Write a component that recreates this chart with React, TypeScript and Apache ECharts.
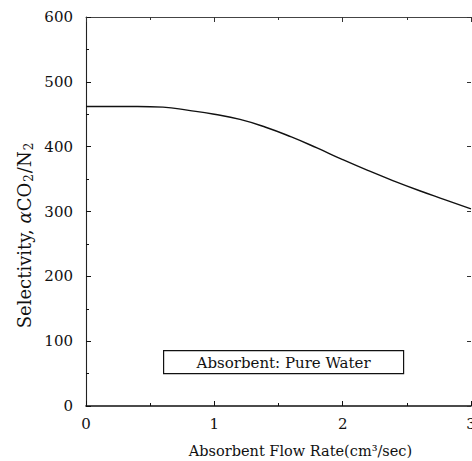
import React, { useEffect, useRef } from "react";
import * as echarts from "echarts";

const flowRate = [0, 0.2, 0.4, 0.6, 0.8, 1.0, 1.2, 1.4, 1.6, 1.8, 2.0, 2.2, 2.4, 2.6, 2.8, 3.0];
const selectivity = [462, 462, 462, 461, 456, 450, 442, 430, 415, 398, 380, 363, 347, 332, 318, 304];
const annotation = "Absorbent: Pure Water";
const xName = "Absorbent Flow Rate(cm³/sec)";
const yName = "Selectivity, {a|α}CO{s|2}/N{s|2}";

const FONT = "'DejaVu Serif', 'Liberation Serif', serif";

export default function App() {
  const ref = useRef<HTMLDivElement>(null);
  useEffect(() => {
    if (!ref.current) return;
    const chart = echarts.init(ref.current, undefined, { renderer: "svg" });
    const mk = (c: string, show = true, w = 1.2) => ({ show, onZero: false, lineStyle: { color: c, width: w } });
    const tick = (c: string) => ({ show: true, inside: true, length: 5, lineStyle: { color: c } });
    const minor = (c: string) => ({ show: true, splitNumber: 2, length: 3, lineStyle: { color: c } });
    chart.setOption({
      animation: false,
      backgroundColor: "#fff",
      grid: { left: 86, right: 1, top: 17, bottom: 55, outerBoundsMode: "none", containLabel: false, show: false },
      xAxis: [
        {
          type: "value",
          gridIndex: 0,
          min: 0,
          max: 3,
          interval: 1,
          position: "bottom",
          name: xName,
          nameLocation: "middle",
          nameGap: 37,
          nameTextStyle: { fontFamily: FONT, fontSize: 14.5, color: "#111", padding: [0, 0, 0, 44] },
          axisLine: mk("#111", true, 1.6),
          axisTick: tick("#111"),
          minorTick: minor("#111"),
          axisLabel: { fontFamily: FONT, fontSize: 15, color: "#111", margin: 10 },
          splitLine: { show: false },
          minorSplitLine: { show: false },
        },
        {
          type: "value",
          gridIndex: 0,
          min: 0,
          max: 3,
          interval: 1,
          position: "top",
          axisLine: mk("#444", true, 1),
          axisTick: tick("#333"),
          minorTick: minor("#333"),
          axisLabel: { show: false },
          splitLine: { show: false },
          minorSplitLine: { show: false },
        },
      ],
      yAxis: [
        {
          type: "value",
          gridIndex: 0,
          min: 0,
          max: 600,
          interval: 100,
          position: "left",
          axisLine: mk("#222", true, 1.1),
          axisTick: tick("#111"),
          minorTick: minor("#111"),
          axisLabel: { fontFamily: FONT, fontSize: 15, color: "#111", margin: 13 },
          splitLine: { show: false },
          minorSplitLine: { show: false },
        },
        {
          type: "value",
          gridIndex: 0,
          min: 0,
          max: 600,
          interval: 100,
          position: "right",
          axisLine: mk("#111", false),
          axisTick: { show: true, inside: true, length: 4, lineStyle: { color: "#333" } },
          axisLabel: { show: false },
          splitLine: { show: false },
          minorSplitLine: { show: false },
        },
      ],
      graphic: [
        {
          type: "text",
          x: 24,
          y: 235,
          rotation: Math.PI / 2,
          style: {
            text: yName,
            fontFamily: FONT,
            fontSize: 18,
            fill: "#111",
            align: "center",
            verticalAlign: "middle",
            rich: {
              a: { fontFamily: FONT, fontSize: 18, fontStyle: "italic", fill: "#111" },
              s: { fontFamily: FONT, fontSize: 12, fill: "#111", padding: [9, 1, 0, 1] },
            },
          },
        },
        {
          type: "group",
          left: 163,
          top: 350,
          children: [
            {
              type: "rect",
              shape: { x: 0, y: 0, width: 240, height: 23 },
              style: { fill: "#fff", stroke: "#111", lineWidth: 1.2 },
            },
            {
              type: "text",
              x: 120,
              y: 12,
              style: {
                text: annotation,
                fontFamily: FONT,
                fontSize: 15,
                fill: "#111",
                align: "center",
                verticalAlign: "middle",
              },
            },
          ],
        },
      ],
      series: [
        {
          type: "line",
          xAxisIndex: 0,
          yAxisIndex: 0,
          data: flowRate.map((x, i) => [x, selectivity[i]]),
          smooth: true,
          showSymbol: false,
          lineStyle: { color: "#111", width: 1.4 },
        },
      ],
    });
    return () => chart.dispose();
  }, []);
  return <div ref={ref} style={{ width: 472, height: 461, position: "absolute", left: 0, top: 0 }} />;
}
